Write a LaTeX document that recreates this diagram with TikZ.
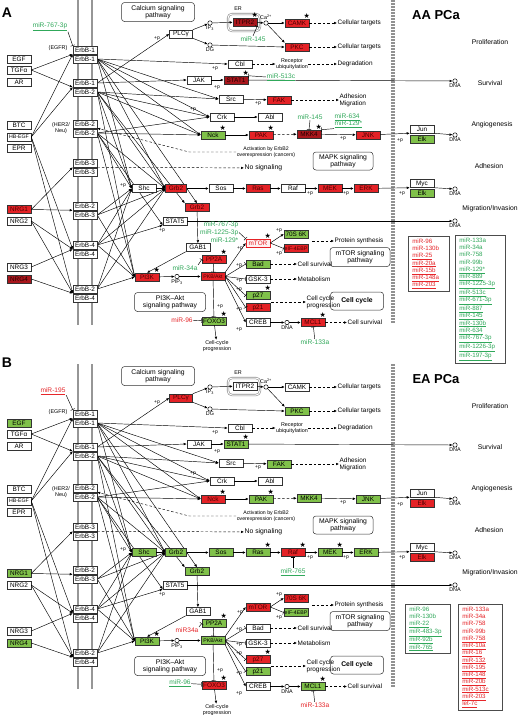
\documentclass[tikz,border=0pt]{standalone}
\usepackage{fontspec}
\setmainfont{Liberation Sans}
\newfontfamily\starfont{DejaVu Sans}
\usetikzlibrary{arrows.meta}
\usetikzlibrary{backgrounds}

\definecolor{kred}{RGB}{228,34,38}
\definecolor{kdark}{RGB}{168,22,28}
\definecolor{kgreen}{RGB}{128,193,74}
\definecolor{mirgreen}{RGB}{48,168,90}
\definecolor{mirred}{RGB}{230,38,42}
\definecolor{memb}{RGB}{150,150,150}
\definecolor{sepgray}{RGB}{145,145,145}

\newcommand\genefont{\fontsize{6.4}{7}\selectfont}
\newcommand\smallgenefont{\fontsize{5.2}{6}\selectfont}
\newcommand\notefont{\fontsize{5.4}{6}\selectfont}
\newcommand\lblfont{\fontsize{6.4}{7}\selectfont}
\newcommand\areafont{\fontsize{6.8}{7.5}\selectfont}
\newcommand\mirfont{\fontsize{6.6}{7}\selectfont}
\newcommand\listfont{\fontsize{6.2}{7.27}\selectfont}

\tikzset{
  gene/.style={draw=black!80, line width=0.5pt, fill=white, minimum width=24pt,
    minimum height=8pt, inner sep=0pt, font=\genefont},
  up/.style={fill=kred, text=red!30!black},
  hi/.style={fill=kdark, text=red!15!black},
  lt/.style={fill=red!6, draw=kred, text=kred},
  dn/.style={fill=kgreen},
  starred/.style={label={[inner sep=0.3pt, text=black, font=\starfont\fontsize{7}{7}\selectfont]35:★}},
  mkgene/.style={c-#1/.style={}},
  mkgene/.list={egf,nrg1,nrg4,plcg,itpr2,camk,pkc,stat1,fak,nck,pak,mkk4,jnk,elka,shc,grb2,grb2b,sos,ras,raf,mek,erk,elkb,pi3k,akt,pp2a,mtor,s6k,ebp,bad,p27,p21,foxo,mcl1},
  pway/.style={draw=black!80, line width=0.5pt, rounded corners=3pt, align=center,
    font=\areafont, inner sep=0.5pt},
  dot/.style={circle, draw, line width=0.5pt, fill=white, inner sep=0pt, minimum size=4.4pt},
  dnadot/.style={dot, label={[note]below:DNA}},
  note/.style={font=\notefont, inner sep=0.5pt},
  pnote/.style={font=\fontsize{5}{5}\selectfont, inner sep=0pt},
  lbl/.style={font=\lblfont, inner sep=0.5pt},
  area/.style={font=\areafont, inner sep=0.5pt},
  act/.style={line width=0.45pt, -{Latex[length=3pt, width=2.6pt]}},
  inh/.style={line width=0.45pt, -{Bar[width=4.5pt]}},
  indir/.style={act, dash pattern=on 2.5pt off 2pt},
  mirg/.style={font=\mirfont, text=mirgreen, inner sep=0.5pt},
  mirr/.style={font=\mirfont, text=mirred, inner sep=0.5pt},
  mirlist/.style={draw=black!70, line width=0.5pt, anchor=north west, align=left,
    font=\listfont, inner xsep=4pt, inner ysep=2.5pt},
}

% one ErbB panel, #1 = title
\newcommand\erbbpanel[1]{%
  % membrane, separator, ER
  \draw[memb, line width=2.2pt] (78,0) -- (78,325) (92,0) -- (92,325);
  \foreach \yy in {0,3,...,321}
    \fill[sepgray] (391.3,\yy) rectangle (394.7,\yy+2.3);
  \draw[black!45, double=white, double distance=1pt, line width=0.6pt, rounded corners=4pt] (228,14) rectangle (260,31);
  % ligands
  \node[gene, c-egf] (egf) at (19,59) {EGF};
  \node[gene] (tgfa) at (19,70) {TGFα};
  \node[gene] (ar) at (19,82) {AR};
  \node[gene] (btc) at (19,125) {BTC};
  \node[gene, font=\smallgenefont] (hbegf) at (19,137) {HB-EGF};
  \node[gene] (epr) at (19,148) {EPR};
  \node[gene, c-nrg1] (nrg1) at (19,209.5) {NRG1};
  \node[gene] (nrg2) at (19,221) {NRG2};
  \node[gene] (nrg3) at (19,267) {NRG3};
  \node[gene, c-nrg4] (nrg4) at (19,279) {NRG4};
  % receptor dimers
  \foreach \n/\y/\lab in {e1a/50/ErbB-1,e1b/59/ErbB-1,e2a/83/ErbB-1,e2b/92/ErbB-2,e3a/124/ErbB-2,e3b/133/ErbB-2,e4a/163/ErbB-3,e4b/172/ErbB-3,e5a/206/ErbB-2,e5b/215/ErbB-3,e6a/245/ErbB-4,e6b/254/ErbB-4,e7a/289/ErbB-2,e7b/298/ErbB-4}
    \node[gene] (\n) at (85,\y) {\lab};
  \node[note] (egfr) at (58,48) {(EGFR)};
  \node[note, align=center] (her2) at (61,128) {(HER2/\\Neu)};
  \foreach \lig/\rec in {tgfa/e1a,tgfa/e2a,hbegf/e1a,hbegf/e2a,hbegf/e6a,hbegf/e7a,nrg1/e4a,nrg1/e5a,nrg2/e6a,nrg2/e7a,nrg3/e6a,nrg4/e7a}
    \draw[act] (\lig.east) -- (\rec.south west);
  % calcium branch
  \node[pway, minimum width=73pt, minimum height=19pt] (calcium) at (158,12) {Calcium signaling\\pathway};
  \node[gene, c-plcg, minimum width=23pt] (plcg) at (181,34) {PLCγ};
  \node[dot, label={[note]below:IP\textsubscript{3}}] (ip3) at (210,23) {};
  \node[dot, label={[note]below:DG}] (dg) at (210,45) {};
  \node[note] (er) at (238,9) {ER};
  \node[gene, c-itpr2] (itpr2) at (245,22) {ITPR2};
  \node[dot, label={[note]above:Ca\textsuperscript{2+}}] (ca) at (266,23) {};
  \node[gene, c-camk] (camk) at (297,23) {CAMK};
  \node[gene, c-pkc] (pkc) at (297,47) {PKC};
  \node[lbl, anchor=west] (targets1) at (337,23) {Cellular targets};
  \node[lbl, anchor=west] (targets2) at (337,47) {Cellular targets};
  \draw[act] (plcg.north east) -- (ip3);
  \draw[act] (plcg.south east) -- (dg);
  \draw[act] (ip3) -- (itpr2);
  \draw[act] (itpr2) -- (ca);
  \draw[act] (ca) -- (camk);
  \draw[act] (ca) -- (pkc.north west);
  \draw[act] (dg) -- (pkc.west);
  \draw[indir] (camk) -- (targets1);
  \draw[indir] (pkc) -- (targets2);
  % Cbl, JAK/STAT, Src, Crk
  \node[gene] (cbl) at (240,64) {Cbl};
  \node[note, align=center] (ubiq) at (292,64) {Receptor\\ubiquitylation};
  \node[lbl, anchor=west] (degrad) at (337,64) {Degradation};
  \draw[indir] (cbl) -- (ubiq);
  \draw[indir] (ubiq) -- (degrad);
  \node[gene] (jak) at (199,80) {JAK};
  \node[gene, c-stat1] (stat1) at (236,80) {STAT1};
  \node[dnadot] (dna1) at (455,81) {};
  \draw[act] (jak) -- (stat1);
  \draw[act] (stat1) -- (dna1);
  \node[gene] (src) at (231,99) {Src};
  \node[gene, c-fak] (fak) at (279,100) {FAK};
  \node[lbl, anchor=west, align=left] (adhes) at (339,100) {Adhesion\\Migration};
  \draw[act] (src) -- (fak);
  \draw[indir] (fak) -- (adhes);
  \node[gene] (crk) at (222,117) {Crk};
  \node[gene] (abl) at (270,117) {Abl};
  \draw[act] (crk) -- (abl);
  % Nck - JNK
  \node[gene, c-nck] (nck) at (213,135) {Nck};
  \node[gene, c-pak] (pak) at (261,135) {PAK};
  \node[gene, c-mkk4] (mkk4) at (309,134) {MKK4};
  \node[gene, c-jnk] (jnk) at (368,135) {JNK};
  \node[gene] (jun) at (422,129) {Jun};
  \node[gene, c-elka] (elka) at (422,139) {Elk};
  \node[dnadot] (dna2) at (455,135) {};
  \draw[act] (nck) -- (pak);
  \draw[indir] (pak) -- (mkk4);
  \draw[act] (mkk4) -- (jnk);
  \draw[act] (jnk) -- (jun.south west);
  \draw[act] (jun.south east) -- (dna2);
  \node[pway, minimum width=60pt, minimum height=18pt] (mapk) at (343,161) {MAPK signaling\\pathway};
  \node[font=\fontsize{5.2}{6}\selectfont, inner sep=0.5pt, align=center] (cancer) at (266,152) {Activation by ErbB2\\overexpression (cancers)};
  \node[area, anchor=west] (nosig) at (244,168) {No signaling};
  \draw[indir] (cancer.west) -- ++(-47,0) -- (e3a.south east);
  \draw[indir] (e4a.south east) -- (nosig);
  % Ras-MAPK row
  \node[gene, c-shc] (shc) at (144,188.5) {Shc};
  \node[gene, c-grb2, minimum width=21pt] (grb2) at (176,188.5) {Grb2};
  \node[gene, c-sos] (sos) at (221,188.5) {Sos};
  \node[gene, c-ras] (ras) at (258,188.5) {Ras};
  \node[gene, c-raf] (raf) at (293,188.5) {Raf};
  \node[gene, c-mek] (mek) at (330,188.5) {MEK};
  \node[gene, c-erk] (erk) at (366,188.5) {ERK};
  \node[gene] (myc) at (422,183.5) {Myc};
  \node[gene, c-elkb] (elkb) at (422,193.5) {Elk};
  \node[dnadot] (dna3) at (455,189) {};
  \foreach \a/\b in {shc/grb2,grb2/sos,sos/ras,ras/raf,raf/mek,mek/erk}
    \draw[act] (\a) -- (\b);
  \draw[act] (erk) -- (myc.south west);
  \draw[act] (myc.south east) -- (dna3);
  % STAT5, Grb2, GAB1
  \node[gene] (stat5) at (175,221) {STAT5};
  \node[dnadot] (dna4) at (455,221) {};
  \draw[act] (stat5) -- (dna4);
  \node[gene, c-grb2b] (grb2b) at (197,207.5) {Grb2};
  \node[gene] (gab1) at (198,247.5) {GAB1};
  \draw[act] (grb2b) -- (gab1);
  % PI3K-Akt
  \node[gene, c-pi3k] (pi3k) at (147,277) {PI3K};
  \node[dot, label={[note]below:PIP\textsubscript{3}}] (pip3) at (177,276.5) {};
  \node[gene, c-akt, font=\smallgenefont] (akt) at (213,276.5) {PKB/Akt};
  \node[gene, c-pp2a] (pp2a) at (214,259.5) {PP2A};
  \node[pway, minimum width=71pt, minimum height=19pt] (pi3kpath) at (170,302) {PI3K–Akt\\signaling pathway};
  \draw[act] (gab1.south west) -- (pi3k.north);
  \draw[act] (pi3k) -- (pip3);
  \draw[act] (pip3) -- (akt);
  \draw[inh] (pp2a) -- (akt);
  \node[gene, c-mtor] (mtor) at (258,243) {mTOR};
  \node[gene, c-s6k] (s6k) at (296,234) {70S 6K};
  \node[gene, c-ebp, font=\smallgenefont] (ebp) at (296,248.5) {eIF-4EBP};
  \node[lbl, anchor=west] (protsyn) at (334,241) {Protein synthesis};
  \coordinate (ps) at (312,241);
  \draw[indir] (ps) -- (protsyn);
  \node[pway, minimum width=60pt, minimum height=19pt] (mtorpath) at (360,257) {mTOR signaling\\pathway};
  \draw[act] (akt.north east) -- (mtor.west);
  \draw[act] (mtor.east) -- (s6k.west);
  \draw[inh] (mtor.east) -- (ebp.west);
  \node[gene, c-bad] (bad) at (258,264) {Bad};
  \node[gene] (gsk) at (258,279) {GSK-3};
  \node[gene, c-p27] (p27) at (258,295.5) {p27};
  \node[gene, c-p21] (p21) at (258,307.5) {p21};
  \node[lbl, anchor=west] (surv1) at (297,264) {Cell survival};
  \node[lbl, anchor=west] (metab) at (297,279) {Metabolism};
  \node[lbl, anchor=west, align=left] (ccprog) at (306,302) {Cell cycle\\progression};
  \coordinate (cc) at (271,302);
  \draw[indir] (bad) -- (surv1);
  \draw[indir] (gsk) -- (metab);
  \draw[indir] (cc) -- (ccprog);
  \node[pway, font=\bfseries\areafont, minimum width=53pt, minimum height=18pt] (ccpath) at (357,301) {Cell cycle};
  \foreach \g in {bad,gsk,p27,p21}
    \draw[inh] (akt.east) -- (\g.west);
  \node[gene, c-foxo] (foxo) at (214,321) {FOXO3};
  \node[note, align=center] (ccp) at (217,346) {Cell-cycle\\progression};
  \node[gene] (creb) at (258,322.5) {CREB};
  \node[dnadot] (dna5) at (287,322.5) {};
  \node[gene, c-mcl1] (mcl1) at (313,322.5) {MCL1};
  \node[lbl, anchor=west] (surv2) at (347,322.5) {Cell survival};
  \draw[inh] (akt) -- (foxo);
  \draw[act] (foxo) -- (ccp);
  \draw[act] (akt.south east) -- (creb.west);
  \draw[act] (creb) -- (dna5);
  \draw[act] (dna5) -- (mcl1);
  \draw[indir] (mcl1) -- (surv2);
  % phosphorylation marks
  \foreach \x/\y [count=\i] in {157/39,215/69,217/88,258/104,193/110,343/139,400/141,123/186,310/194,346/194,402/194,162/231,240/249,279/231,279/254,239/266,239/281,239/290,239/310,220/307,239/330}
    \node[pnote] (plus\i) at (\x,\y) {+p};
  % receptor outputs
  \begin{scope}[on background layer]
    \foreach \g in {cbl,src,crk,nck,shc,grb2}
      \draw[act] (e1b.east) -- (\g.west);
    \draw[act] (e1b.east) -- (grb2b.north);
    \draw[act] (e2a.east) -- (plcg.west);
    \draw[act] (e2a.east) -- (jak.west);
    \foreach \g in {src,crk,nck,shc,grb2,pi3k}
      \draw[act] (e2b.east) -- (\g.west);
    \draw[act] (e2b.east) -- (grb2b.north west);
    \foreach \g in {crk,nck,shc,grb2,pi3k}
      \draw[act] (e3b.east) -- (\g.west);
    \draw[act] (e3b.east) -- (stat5.south west);
    \foreach \rc in {e5b,e6a,e7a} {
      \foreach \g in {shc,grb2,pi3k}
        \draw[act] (\rc.east) -- (\g.west);
    }
    \draw[act] (e6a.east) -- (stat5.south west);
  \end{scope}
  % outcomes
  \node[font=\bfseries\fontsize{13}{14}\selectfont] (title) at (436,15) {#1};
  \node[area] (prolif) at (490,42) {Proliferation};
  \node[area] (surv) at (490,83) {Survival};
  \node[area] (angio) at (492,125) {Angiogenesis};
  \node[area] (adh) at (489,166) {Adhesion};
  \node[area] (migr) at (490,209) {Migration/Invasion};
}

\begin{document}
\begin{tikzpicture}[x=1pt, y=-1pt]
  \useasboundingbox (0,0) rectangle (520,715);
  \begin{scope}[on background layer]
    \fill[white] (0,0) rectangle (520,715);
  \end{scope}
  \node[font=\bfseries\fontsize{14}{15}\selectfont] (lblA) at (7,13) {A};
  \node[font=\bfseries\fontsize{14}{15}\selectfont] (lblB) at (7,363) {B};

  % AA PCa
  \begin{scope}[c-nrg1/.style=up, c-nrg4/.style=hi, c-itpr2/.style={hi,starred},
      c-camk/.style={up,starred}, c-pkc/.style=up, c-stat1/.style={hi,starred},
      c-fak/.style=up, c-nck/.style={dn,starred}, c-pak/.style={up,starred},
      c-mkk4/.style={hi,starred}, c-jnk/.style=up, c-elka/.style=dn,
      c-grb2/.style=up, c-grb2b/.style=up, c-ras/.style=up, c-mek/.style=up,
      c-erk/.style=up, c-elkb/.style=dn, c-pi3k/.style={up,starred}, c-akt/.style=up,
      c-pp2a/.style={up,starred}, c-mtor/.style={lt,starred}, c-s6k/.style=dn,
      c-ebp/.style=up, c-bad/.style=dn, c-p27/.style={dn,starred}, c-p21/.style=up,
      c-foxo/.style={dn,starred}, c-mcl1/.style={up,starred}]
    \erbbpanel{AA PCa}
    \node[mirg] (m767) at (50,27) {\underline{miR-767-3p}};
    \draw[inh] (m767.south east) -- (e1a.north west);
    \node[mirg] (m145a) at (253,39) {miR-145};
    \draw[inh] (m145a.north) -- (itpr2.south east);
    \node[mirg] (m513) at (281,77) {\underline{miR-513c}};
    \draw[inh] (m513.west) -- (stat1.north east);
    \node[mirg] (m145b) at (310,117) {miR-145};
    \draw[inh] (m145b.south) -- (mkk4.north);
    \node[mirg, anchor=west] (m634) at (334,117) {\underline{miR-634}};
    \node[mirg, anchor=west] (m129a) at (334,124.5) {\underline{miR-129*}};
    \draw[inh] (m129a.south west) -- (mkk4.north east);
    \node[mirg, anchor=east] (m767b) at (239,225) {miR-767-3p};
    \node[mirg, anchor=east] (m1225) at (239,232.5) {miR-1225-3p};
    \node[mirg, anchor=east] (m129b) at (239,240) {miR-129*};
    \draw[inh] (m1225.east) -- (mtor.north west);
    \node[mirg] (m34) at (185,268) {miR-34a};
    \draw[inh] (m34.north east) -- (pp2a.west);
    \node[mirr] (m96) at (182,320) {miR-96};
    \draw[inh] (m96) -- (foxo);
    \node[mirg] (m133) at (315,342) {miR-133a};
    \draw[inh] (m133) -- (mcl1);
    \node[mirlist, text=mirred, text width=33pt] (redlist) at (408,236)
      {miR-96\\miR-130b\\\underline{miR-25}\\\underline{miR-20a}\\\underline{miR-15b}\\\underline{miR-148a}\\\underline{miR-203}};
    \node[mirlist, text=mirgreen, text width=42pt] (greenlist) at (455,235)
      {miR-133a\\miR-34a\\miR-758\\miR-99b\\\underline{miR-129*}\\\underline{miR-889}\\\underline{miR-1225-3p}\\\underline{miR-513c}\\\underline{miR-671-3p}\\\underline{miR-887}\\\underline{miR-145}\\\underline{miR-130b}\\\underline{miR-634}\\\underline{miR-767-3p}\\\underline{miR-1226-3p}\\\underline{miR-197-3p}};
  \end{scope}

  % EA PCa
  \begin{scope}[yshift=-364pt, c-egf/.style=dn, c-nrg1/.style=dn, c-nrg4/.style=dn,
      c-plcg/.style=up, c-pkc/.style=dn, c-stat1/.style={dn,starred}, c-fak/.style=dn,
      c-nck/.style={up,starred}, c-pak/.style={dn,starred}, c-mkk4/.style=dn,
      c-jnk/.style=dn, c-elka/.style=up, c-shc/.style=dn, c-grb2/.style=dn,
      c-grb2b/.style=dn, c-sos/.style=dn, c-ras/.style={dn,starred},
      c-raf/.style={up,starred}, c-mek/.style={dn,starred}, c-erk/.style=dn,
      c-elkb/.style=up, c-pi3k/.style={dn,starred}, c-akt/.style=dn,
      c-pp2a/.style={dn,starred}, c-mtor/.style=up, c-s6k/.style=up, c-ebp/.style=dn,
      c-p27/.style={up,starred}, c-p21/.style=dn, c-foxo/.style={up,starred},
      c-mcl1/.style={dn,starred}]
    \erbbpanel{EA PCa}
    \node[mirr] (m195) at (53,27) {\underline{miR-195}};
    \draw[inh] (m195.south east) -- (e1a.north west);
    \node[mirg] (m765) at (293,208) {\underline{miR-765}};
    \draw[inh] (m765.north) -- (raf.south);
    \node[mirr] (m34) at (187,266) {miR34a};
    \draw[inh] (m34.north east) -- (pp2a.west);
    \node[mirg] (m96) at (180,319) {\underline{miR-96}};
    \draw[inh] (m96) -- (foxo);
    \node[mirr] (m133) at (315,341) {miR-133a};
    \draw[inh] (m133) -- (mcl1);
    \node[mirlist, text=mirgreen, text width=37pt] (greenlist) at (405,240)
      {miR-96\\miR-130b\\\underline{miR-22}\\\underline{miR-483-3p}\\\underline{miR-92b}\\\underline{miR-765}};
    \node[mirlist, text=mirred, text width=36pt] (redlist) at (458,240)
      {miR-133a\\miR-34a\\miR-758\\miR-99b\\\underline{miR-758}\\\underline{miR-10a}\\\underline{miR-16}\\\underline{miR-132}\\\underline{miR-195}\\\underline{miR-148}\\\underline{miR-20b}\\\underline{miR-513c}\\\underline{miR-203}\\\underline{let-7c}};
  \end{scope}
\end{tikzpicture}
\end{document}
